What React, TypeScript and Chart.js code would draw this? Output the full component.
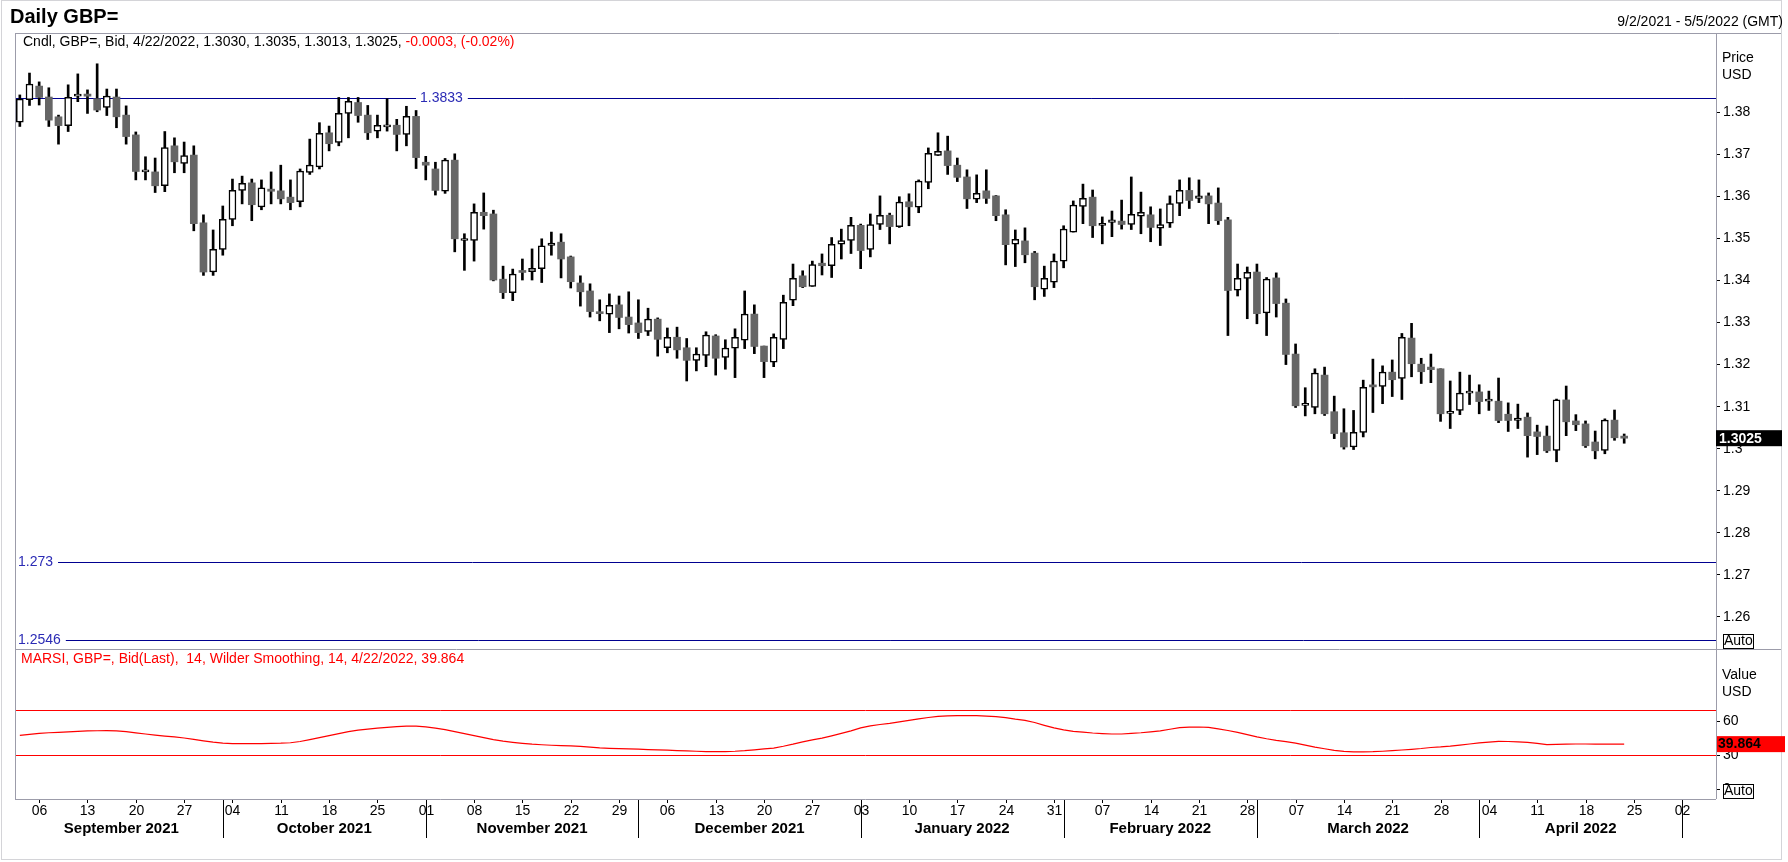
import React, { useEffect, useRef } from 'react';
import { Chart, registerables } from 'chart.js';

Chart.register(...registerables);

const FONT = "'Liberation Sans', Arial, sans-serif";
const FRAME = '#9c9caa';
const LEVEL_LINE = '#000090';
const LEVEL_TEXT = '#2b2bb5';

// trading days (weekdays) on the axis
const START_DATE = '2021-09-02';
const END_DATE = '2022-05-05';

// daily candles, 9/2/2021 .. 4/22/2022
const open = [
  1.3776, 1.3830, 1.3862, 1.3836, 1.3789, 1.3768, 1.3838, 1.3843, 1.3832, 1.3811,
  1.3836, 1.3793, 1.3746, 1.3658, 1.3658, 1.3625, 1.3720, 1.3678, 1.3698, 1.3537,
  1.3420, 1.3474, 1.3545, 1.3614, 1.3632, 1.3575, 1.3617, 1.3613, 1.3598, 1.3587,
  1.3657, 1.3670, 1.3751, 1.3728, 1.3797, 1.3823, 1.3793, 1.3755, 1.3765, 1.3769,
  1.3747, 1.3790, 1.3681, 1.3665, 1.3612, 1.3686, 1.3495, 1.3495, 1.3562, 1.3558,
  1.3403, 1.3371, 1.3420, 1.3421, 1.3428, 1.3483, 1.3491, 1.3456, 1.3394, 1.3375,
  1.3325, 1.3320, 1.3342, 1.3313, 1.3299, 1.3279, 1.3308, 1.3240, 1.3265, 1.3240,
  1.3210, 1.3222, 1.3268, 1.3217, 1.3239, 1.3258, 1.3320, 1.3244, 1.3206, 1.3260,
  1.3353, 1.3411, 1.3386, 1.3441, 1.3435, 1.3486, 1.3495, 1.3531, 1.3474, 1.3533,
  1.3555, 1.3528, 1.3587, 1.3574, 1.3633, 1.3697, 1.3708, 1.3674, 1.3646, 1.3593,
  1.3613, 1.3601, 1.3556, 1.3486, 1.3494, 1.3465, 1.3379, 1.3396, 1.3446, 1.3515,
  1.3576, 1.3598, 1.3531, 1.3538, 1.3541, 1.3533, 1.3553, 1.3556, 1.3524, 1.3536,
  1.3583, 1.3614, 1.3595, 1.3601, 1.3584, 1.3544, 1.3377, 1.3405, 1.3420, 1.3323,
  1.3406, 1.3346, 1.3225, 1.3103, 1.3098, 1.3175, 1.3088, 1.3038, 1.3004, 1.3039,
  1.3149, 1.3148, 1.3182, 1.3167, 1.3263, 1.3201, 1.3194, 1.3190, 1.3084, 1.3091,
  1.3132, 1.3135, 1.3113, 1.3113, 1.3082, 1.3067, 1.3075, 1.3040, 1.3030, 1.2996,
  1.3116, 1.3066, 1.3059, 1.3016, 1.2996, 1.3068, 1.3030,
];
const high = [
  1.3841, 1.3893, 1.3872, 1.3858, 1.3793, 1.3865, 1.3891, 1.3853, 1.3915, 1.3855,
  1.3855, 1.3815, 1.3753, 1.3694, 1.3691, 1.3754, 1.3739, 1.3729, 1.3720, 1.3556,
  1.3520, 1.3577, 1.3641, 1.3648, 1.3641, 1.3639, 1.3658, 1.3674, 1.3639, 1.3665,
  1.3736, 1.3775, 1.3767, 1.3835, 1.3835, 1.3835, 1.3816, 1.3793, 1.3832, 1.3783,
  1.3814, 1.3804, 1.3695, 1.3681, 1.3690, 1.3701, 1.3511, 1.3582, 1.3608, 1.3567,
  1.3434, 1.3427, 1.3451, 1.3475, 1.3499, 1.3515, 1.3511, 1.3458, 1.3411, 1.3392,
  1.3354, 1.3368, 1.3363, 1.3373, 1.3354, 1.3334, 1.3311, 1.3287, 1.3289, 1.3262,
  1.3240, 1.3278, 1.3271, 1.3259, 1.3285, 1.3375, 1.3342, 1.3244, 1.3273, 1.3365,
  1.3439, 1.3423, 1.3446, 1.3463, 1.3502, 1.3522, 1.3550, 1.3534, 1.3558, 1.3601,
  1.3560, 1.3599, 1.3606, 1.3639, 1.3715, 1.3751, 1.3743, 1.3691, 1.3663, 1.3651,
  1.3663, 1.3602, 1.3568, 1.3520, 1.3525, 1.3469, 1.3434, 1.3463, 1.3530, 1.3589,
  1.3629, 1.3615, 1.3551, 1.3565, 1.3591, 1.3646, 1.3610, 1.3575, 1.3570, 1.3601,
  1.3639, 1.3644, 1.3639, 1.3608, 1.3620, 1.3550, 1.3439, 1.3432, 1.3439, 1.3407,
  1.3418, 1.3356, 1.3249, 1.3145, 1.3190, 1.3194, 1.3125, 1.3095, 1.3091, 1.3163,
  1.3213, 1.3197, 1.3211, 1.3274, 1.3298, 1.3215, 1.3225, 1.3190, 1.3161, 1.3182,
  1.3175, 1.3152, 1.3137, 1.3168, 1.3109, 1.3106, 1.3085, 1.3056, 1.3054, 1.3118,
  1.3149, 1.3081, 1.3066, 1.3042, 1.3071, 1.3092, 1.3035,
];
const low = [
  1.3766, 1.3816, 1.3817, 1.3766, 1.3724, 1.3754, 1.3825, 1.3797, 1.3801, 1.3792,
  1.3763, 1.3724, 1.3639, 1.3639, 1.3609, 1.3611, 1.3656, 1.3656, 1.3518, 1.3412,
  1.3412, 1.3460, 1.3530, 1.3582, 1.3542, 1.3568, 1.3582, 1.3582, 1.3568, 1.3575,
  1.3652, 1.3665, 1.3708, 1.3720, 1.3739, 1.3776, 1.3735, 1.3739, 1.3755, 1.3708,
  1.3720, 1.3666, 1.3639, 1.3603, 1.3607, 1.3468, 1.3424, 1.3446, 1.3522, 1.3399,
  1.3357, 1.3352, 1.3401, 1.3401, 1.3395, 1.3460, 1.3406, 1.3382, 1.3339, 1.3313,
  1.3304, 1.3276, 1.3285, 1.3275, 1.3262, 1.3269, 1.3220, 1.3228, 1.3215, 1.3161,
  1.3185, 1.3195, 1.3175, 1.3189, 1.3169, 1.3238, 1.3226, 1.3169, 1.3195, 1.3238,
  1.3340, 1.3383, 1.3386, 1.3413, 1.3407, 1.3451, 1.3464, 1.3428, 1.3456, 1.3521,
  1.3487, 1.3526, 1.3530, 1.3561, 1.3618, 1.3697, 1.3652, 1.3635, 1.3571, 1.3585,
  1.3583, 1.3542, 1.3437, 1.3433, 1.3442, 1.3354, 1.3362, 1.3383, 1.3430, 1.3515,
  1.3535, 1.3502, 1.3487, 1.3504, 1.3522, 1.3521, 1.3511, 1.3492, 1.3483, 1.3526,
  1.3554, 1.3571, 1.3585, 1.3535, 1.3533, 1.3269, 1.3363, 1.3309, 1.3297, 1.3269,
  1.3313, 1.3200, 1.3098, 1.3078, 1.3083, 1.3079, 1.3024, 1.2999, 1.2998, 1.3028,
  1.3086, 1.3107, 1.3124, 1.3117, 1.3171, 1.3155, 1.3157, 1.3065, 1.3048, 1.3081,
  1.3105, 1.3083, 1.3091, 1.3062, 1.3041, 1.3048, 1.2980, 1.2986, 1.2991, 1.2969,
  1.3031, 1.3043, 1.3003, 1.2976, 1.2988, 1.3020, 1.3013,
];
const close = [
  1.3831, 1.3867, 1.3835, 1.3781, 1.3768, 1.3835, 1.3839, 1.3838, 1.3805, 1.3838,
  1.3789, 1.3742, 1.3659, 1.3660, 1.3625, 1.3716, 1.3682, 1.3697, 1.3535, 1.3420,
  1.3474, 1.3545, 1.3614, 1.3631, 1.3580, 1.3620, 1.3612, 1.3594, 1.3585, 1.3660,
  1.3674, 1.3750, 1.3725, 1.3797, 1.3826, 1.3792, 1.3751, 1.3769, 1.3766, 1.3747,
  1.3790, 1.3692, 1.3674, 1.3614, 1.3686, 1.3499, 1.3496, 1.3562, 1.3554, 1.3401,
  1.3371, 1.3415, 1.3419, 1.3429, 1.3482, 1.3489, 1.3451, 1.3397, 1.3373, 1.3326,
  1.3321, 1.3341, 1.3312, 1.3295, 1.3276, 1.3308, 1.3260, 1.3265, 1.3235, 1.3210,
  1.3225, 1.3270, 1.3215, 1.3239, 1.3265, 1.3320, 1.3243, 1.3207, 1.3265, 1.3348,
  1.3405, 1.3385, 1.3438, 1.3435, 1.3486, 1.3495, 1.3531, 1.3471, 1.3533, 1.3555,
  1.3528, 1.3586, 1.3575, 1.3636, 1.3702, 1.3707, 1.3673, 1.3645, 1.3594, 1.3607,
  1.3595, 1.3554, 1.3485, 1.3498, 1.3461, 1.3385, 1.3405, 1.3446, 1.3522, 1.3579,
  1.3595, 1.3530, 1.3536, 1.3544, 1.3533, 1.3557, 1.3562, 1.3526, 1.3533, 1.3583,
  1.3614, 1.3590, 1.3601, 1.3582, 1.3542, 1.3376, 1.3405, 1.3419, 1.3321, 1.3403,
  1.3345, 1.3224, 1.3102, 1.3104, 1.3180, 1.3083, 1.3036, 1.3004, 1.3039, 1.3146,
  1.3147, 1.3182, 1.3164, 1.3265, 1.3202, 1.3183, 1.3188, 1.3083, 1.3085, 1.3132,
  1.3134, 1.3112, 1.3114, 1.3067, 1.3067, 1.3073, 1.3031, 1.3029, 1.2995, 1.3116,
  1.3064, 1.3057, 1.3007, 1.2995, 1.3068, 1.3026, 1.3025,
];

// MARSI(14, Wilder smoothing)
const rsi = [
  47.6, 48.4, 49.3, 49.9, 50.3, 50.7, 51.1, 51.5, 51.7, 51.8,
  51.6, 50.9, 49.8, 48.8, 47.9, 47.0, 46.2, 45.3, 44.1, 42.8,
  41.6, 40.7, 40.4, 40.3, 40.3, 40.4, 40.5, 40.7, 41.1, 42.2,
  43.9, 45.6, 47.4, 49.2, 50.9, 52.2, 53.2, 54.0, 54.7, 55.3,
  55.7, 55.8, 55.1, 54.0, 52.7, 50.9, 49.1, 47.4, 45.6, 43.9,
  42.5, 41.5, 40.6, 39.8, 39.3, 38.9, 38.6, 38.3, 37.8, 37.2,
  36.6, 36.2, 35.9, 35.6, 35.4, 35.1, 34.8, 34.5, 34.2, 33.9,
  33.6, 33.3, 33.2, 33.3, 33.6, 34.1, 34.8, 35.6, 36.4, 38.0,
  39.8, 41.8, 43.6, 45.1, 47.2, 49.4, 51.6, 54.2, 56.0, 57.2,
  58.2, 59.5, 60.8, 62.1, 63.4, 64.3, 64.8, 65.0, 65.1, 65.0,
  64.6, 64.1, 63.2, 61.9, 60.9, 59.0, 56.5, 54.2, 52.4, 51.2,
  50.4, 49.7, 49.2, 48.8, 48.8, 49.3, 49.9, 50.7, 51.6, 53.0,
  54.4, 54.9, 55.0, 54.7, 53.3, 51.9, 50.2, 48.3, 46.3, 44.6,
  43.2, 42.0, 40.8, 39.0, 37.3, 35.8, 34.4, 33.5, 33.1, 33.0,
  33.2, 33.6, 34.1, 34.7, 35.3, 36.0, 36.9, 37.4, 38.1, 39.0,
  40.0, 40.9, 41.7, 42.3, 42.2, 41.8, 41.5, 40.6, 39.4, 39.6,
  39.9, 40.0, 40.0, 39.9, 39.9, 39.9, 39.864,
];

const PRICE_TICKS = [1.26, 1.27, 1.28, 1.29, 1.3, 1.31, 1.32, 1.33, 1.34, 1.35, 1.36, 1.37, 1.38];
const RSI_TICKS = [0, 30, 60];
const PRICE_LEVELS = [1.3833, 1.273, 1.2546];
const RSI_LEVELS = [70, 30];
const MONTH_NAMES = ['January', 'February', 'March', 'April', 'May', 'June', 'July',
  'August', 'September', 'October', 'November', 'December'];

function weekdays(from: string, to: string): Date[] {
  const out: Date[] = [];
  const d = new Date(from + 'T00:00:00Z');
  const end = new Date(to + 'T00:00:00Z');
  while (d <= end) {
    const w = d.getUTCDay();
    if (w !== 0 && w !== 6) out.push(new Date(d.getTime()));
    d.setUTCDate(d.getUTCDate() + 1);
  }
  return out;
}

const DATES = weekdays(START_DATE, END_DATE);
const LABELS = DATES.map((d) => d.toISOString().slice(0, 10));
const LAST = close.length - 1;

const isUp = (i: number) => close[i] >= open[i];

const overlay = {
  id: 'overlay',
  beforeDatasetsDraw(chart: any) {
    const { ctx, chartArea } = chart;
    const { left, right } = chartArea;
    const ys = chart.scales.y;
    const yr = chart.scales.yRsi;
    ctx.save();
    ctx.lineWidth = 1;
    ctx.font = `14px ${FONT}`;
    ctx.textBaseline = 'middle';
    ctx.textAlign = 'left';
    PRICE_LEVELS.forEach((v, k) => {
      const y = Math.round(ys.getPixelForValue(v)) + 0.5;
      const text = String(v);
      const w = ctx.measureText(text).width;
      const tx = k === 0 ? 420 : left + 3;
      ctx.strokeStyle = LEVEL_LINE;
      ctx.beginPath();
      if (k === 0) {
        ctx.moveTo(left, y);
        ctx.lineTo(tx - 4, y);
      }
      ctx.moveTo(tx + w + 5, y);
      ctx.lineTo(right, y);
      ctx.stroke();
      ctx.fillStyle = LEVEL_TEXT;
      ctx.fillText(text, tx, y);
    });
    ctx.strokeStyle = '#ff0000';
    RSI_LEVELS.forEach((v) => {
      const y = Math.round(yr.getPixelForValue(v)) + 0.5;
      ctx.beginPath();
      ctx.moveTo(left, y);
      ctx.lineTo(right, y);
      ctx.stroke();
    });
    ctx.restore();
  },
  afterDraw(chart: any) {
    const { ctx, chartArea } = chart;
    const { left, right, top, bottom } = chartArea;
    const xs = chart.scales.x;
    const ys = chart.scales.y;
    const yr = chart.scales.yRsi;
    const W = chart.width;
    ctx.save();

    // frames
    ctx.lineWidth = 1;
    ctx.strokeStyle = '#d4d4d8';
    ctx.strokeRect(1.5, 0.5, 1780, 859);
    ctx.strokeStyle = FRAME;
    ctx.beginPath();
    ctx.moveTo(left + 0.5, top);
    ctx.lineTo(left + 0.5, bottom);
    ctx.moveTo(left, top + 0.5);
    ctx.lineTo(W - 7, top + 0.5);
    ctx.moveTo(left, Math.round(yr.top) + 0.5);
    ctx.lineTo(W - 7, Math.round(yr.top) + 0.5);
    ctx.moveTo(right + 0.5, top);
    ctx.lineTo(right + 0.5, bottom);
    ctx.moveTo(left, bottom + 0.5);
    ctx.lineTo(right, bottom + 0.5);
    ctx.stroke();

    // header
    ctx.textBaseline = 'middle';
    ctx.textAlign = 'left';
    ctx.fillStyle = '#000';
    ctx.font = `bold 20px ${FONT}`;
    ctx.fillText('Daily GBP=', 10, 17);
    ctx.font = `14px ${FONT}`;
    ctx.textAlign = 'right';
    ctx.fillText('9/2/2021 - 5/5/2022 (GMT)', 1783, 22);
    ctx.textAlign = 'left';

    const part1 = `Cndl, GBP=, Bid, 4/22/2022, ${open[LAST].toFixed(4)}, ${high[LAST].toFixed(4)}, ${low[LAST].toFixed(4)}, ${close[LAST].toFixed(4)}, `;
    const part2 = '-0.0003, (-0.02%)';
    ctx.fillStyle = '#000';
    ctx.fillText(part1, left + 8, top + 9);
    ctx.fillStyle = '#ff0000';
    ctx.fillText(part2, left + 8 + ctx.measureText(part1).width, top + 9);
    ctx.fillText(`MARSI, GBP=, Bid(Last),  14, Wilder Smoothing, 14, 4/22/2022, ${rsi[LAST].toFixed(3)}`, left + 6, yr.top + 10);

    // axis captions
    ctx.fillStyle = '#000';
    ctx.fillText('Price', right + 6, ys.top + 25);
    ctx.fillText('USD', right + 6, ys.top + 42);
    ctx.fillText('Value', right + 6, yr.top + 26);
    ctx.fillText('USD', right + 6, yr.top + 43);

    // Auto boxes
    [ys.bottom, yr.bottom].forEach((b: number) => {
      const by = Math.round(b) - 15;
      ctx.fillStyle = '#fff';
      ctx.fillRect(right + 7, by, 30, 14);
      ctx.strokeStyle = '#000';
      ctx.strokeRect(right + 7.5, by + 0.5, 30, 14);
      ctx.fillStyle = '#000';
      ctx.fillText('Auto', right + 8, by + 7.5);
    });

    // last value boxes
    ctx.font = `bold 14px ${FONT}`;
    const py = ys.getPixelForValue(close[LAST]);
    ctx.fillStyle = '#000';
    ctx.fillRect(right, py - 8, 66, 16);
    ctx.fillStyle = '#fff';
    ctx.fillText(close[LAST].toFixed(4), right + 3, py + 0.5);
    const ry = yr.getPixelForValue(rsi[LAST]);
    ctx.fillStyle = '#ff0000';
    ctx.fillRect(right + 1, ry - 8, 68, 16);
    ctx.fillStyle = '#000';
    ctx.fillText(rsi[LAST].toFixed(3), right + 2, ry + 0.5);

    // date axis
    ctx.strokeStyle = '#000';
    ctx.fillStyle = '#000';
    ctx.textAlign = 'center';
    ctx.font = `14px ${FONT}`;
    const starts: number[] = [];
    DATES.forEach((d, i) => {
      const x = Math.round(xs.getPixelForValue(i)) + 0.5;
      if (i === 0 || d.getUTCMonth() !== DATES[i - 1].getUTCMonth()) starts.push(i);
      if (d.getUTCDay() === 1) {
        ctx.beginPath();
        ctx.moveTo(x, bottom + 1);
        ctx.lineTo(x, bottom + 4);
        ctx.stroke();
        ctx.fillText(String(d.getUTCDate()).padStart(2, '0'), x, bottom + 12.5);
      }
    });
    ctx.font = `bold 15px ${FONT}`;
    starts.forEach((s, k) => {
      if (k > 0) {
        const x = Math.round(xs.getPixelForValue(s)) + 0.5;
        ctx.beginPath();
        ctx.moveTo(x, bottom + 1);
        ctx.lineTo(x, bottom + 39);
        ctx.stroke();
      }
      const next = starts[k + 1];
      if (next !== undefined && next - s >= 10) {
        const cx = (xs.getPixelForValue(s) + xs.getPixelForValue(next)) / 2;
        const d = DATES[s];
        ctx.fillText(`${MONTH_NAMES[d.getUTCMonth()]} ${d.getUTCFullYear()}`, cx, bottom + 29.5);
      }
    });
    ctx.restore();
  },
};

export default function App() {
  const canvasRef = useRef<HTMLCanvasElement>(null);

  useEffect(() => {
    document.body.style.margin = '0';
    const ctx = canvasRef.current?.getContext('2d');
    if (!ctx) return;

    const chart = new Chart(ctx, {
      type: 'bar',
      data: {
        labels: LABELS,
        datasets: [
          {
            type: 'bar',
            label: 'wick',
            data: high.map((h, i) => [low[i], h]) as any,
            backgroundColor: '#000',
            barThickness: 2,
            grouped: false,
            order: 3,
            yAxisID: 'y',
          },
          {
            type: 'bar',
            label: 'body',
            data: open.map((o, i) => [Math.min(o, close[i]), Math.max(o, close[i])]) as any,
            backgroundColor: (c: any) => (isUp(c.dataIndex) ? '#ffffff' : '#666666'),
            borderColor: (c: any) => (isUp(c.dataIndex) ? '#000000' : '#666666'),
            borderWidth: (c: any) => (isUp(c.dataIndex) ? 1.5 : 0),
            borderSkipped: false,
            barThickness: 7,
            minBarLength: 2,
            grouped: false,
            order: 2,
            yAxisID: 'y',
          },
          {
            type: 'line',
            label: 'MARSI',
            data: rsi,
            borderColor: '#ff0000',
            borderWidth: 1.2,
            pointRadius: 0,
            tension: 0,
            order: 1,
            yAxisID: 'yRsi',
          },
        ],
      },
      options: {
        responsive: false,
        animation: false,
        events: [],
        layout: { padding: { left: 15, top: 33, right: 0, bottom: 0 } },
        plugins: {
          legend: { display: false },
          tooltip: { enabled: false },
        },
        scales: {
          x: {
            type: 'category',
            offset: true,
            ticks: { display: false },
            grid: { display: false },
            border: { display: false },
            afterFit: (s: any) => { s.height = 63; },
          },
          y: {
            type: 'linear',
            position: 'right',
            stack: 'panes',
            stackWeight: 616,
            min: 1.25239,
            max: 1.39882,
            afterBuildTicks: (s: any) => { s.ticks = PRICE_TICKS.map((v) => ({ value: v })); },
            ticks: {
              callback: (v: any) => String(Number(Number(v).toFixed(4))),
              font: { family: FONT, size: 14 },
              color: '#000',
              padding: 3,
            },
            grid: { drawOnChartArea: false, tickLength: 4, tickColor: '#000' },
            border: { display: false },
            afterFit: (s: any) => { s.width = 72; },
          },
          yRsi: {
            type: 'linear',
            position: 'right',
            stack: 'panes',
            stackWeight: 150,
            min: -8.6,
            max: 123.9,
            afterBuildTicks: (s: any) => { s.ticks = RSI_TICKS.map((v) => ({ value: v })); },
            ticks: {
              callback: (v: any) => String(v),
              font: { family: FONT, size: 14 },
              color: '#000',
              padding: 3,
            },
            grid: { drawOnChartArea: false, tickLength: 4, tickColor: '#000' },
            border: { display: false },
            afterFit: (s: any) => { s.width = 72; },
          },
        },
      } as any,
      plugins: [overlay],
    });

    return () => {
      chart.destroy();
    };
  }, []);

  return (
    <div style={{ width: 1788, height: 862 }}>
      <canvas ref={canvasRef} width={1788} height={862} style={{ display: 'block', width: 1788, height: 862 }} />
    </div>
  );
}
